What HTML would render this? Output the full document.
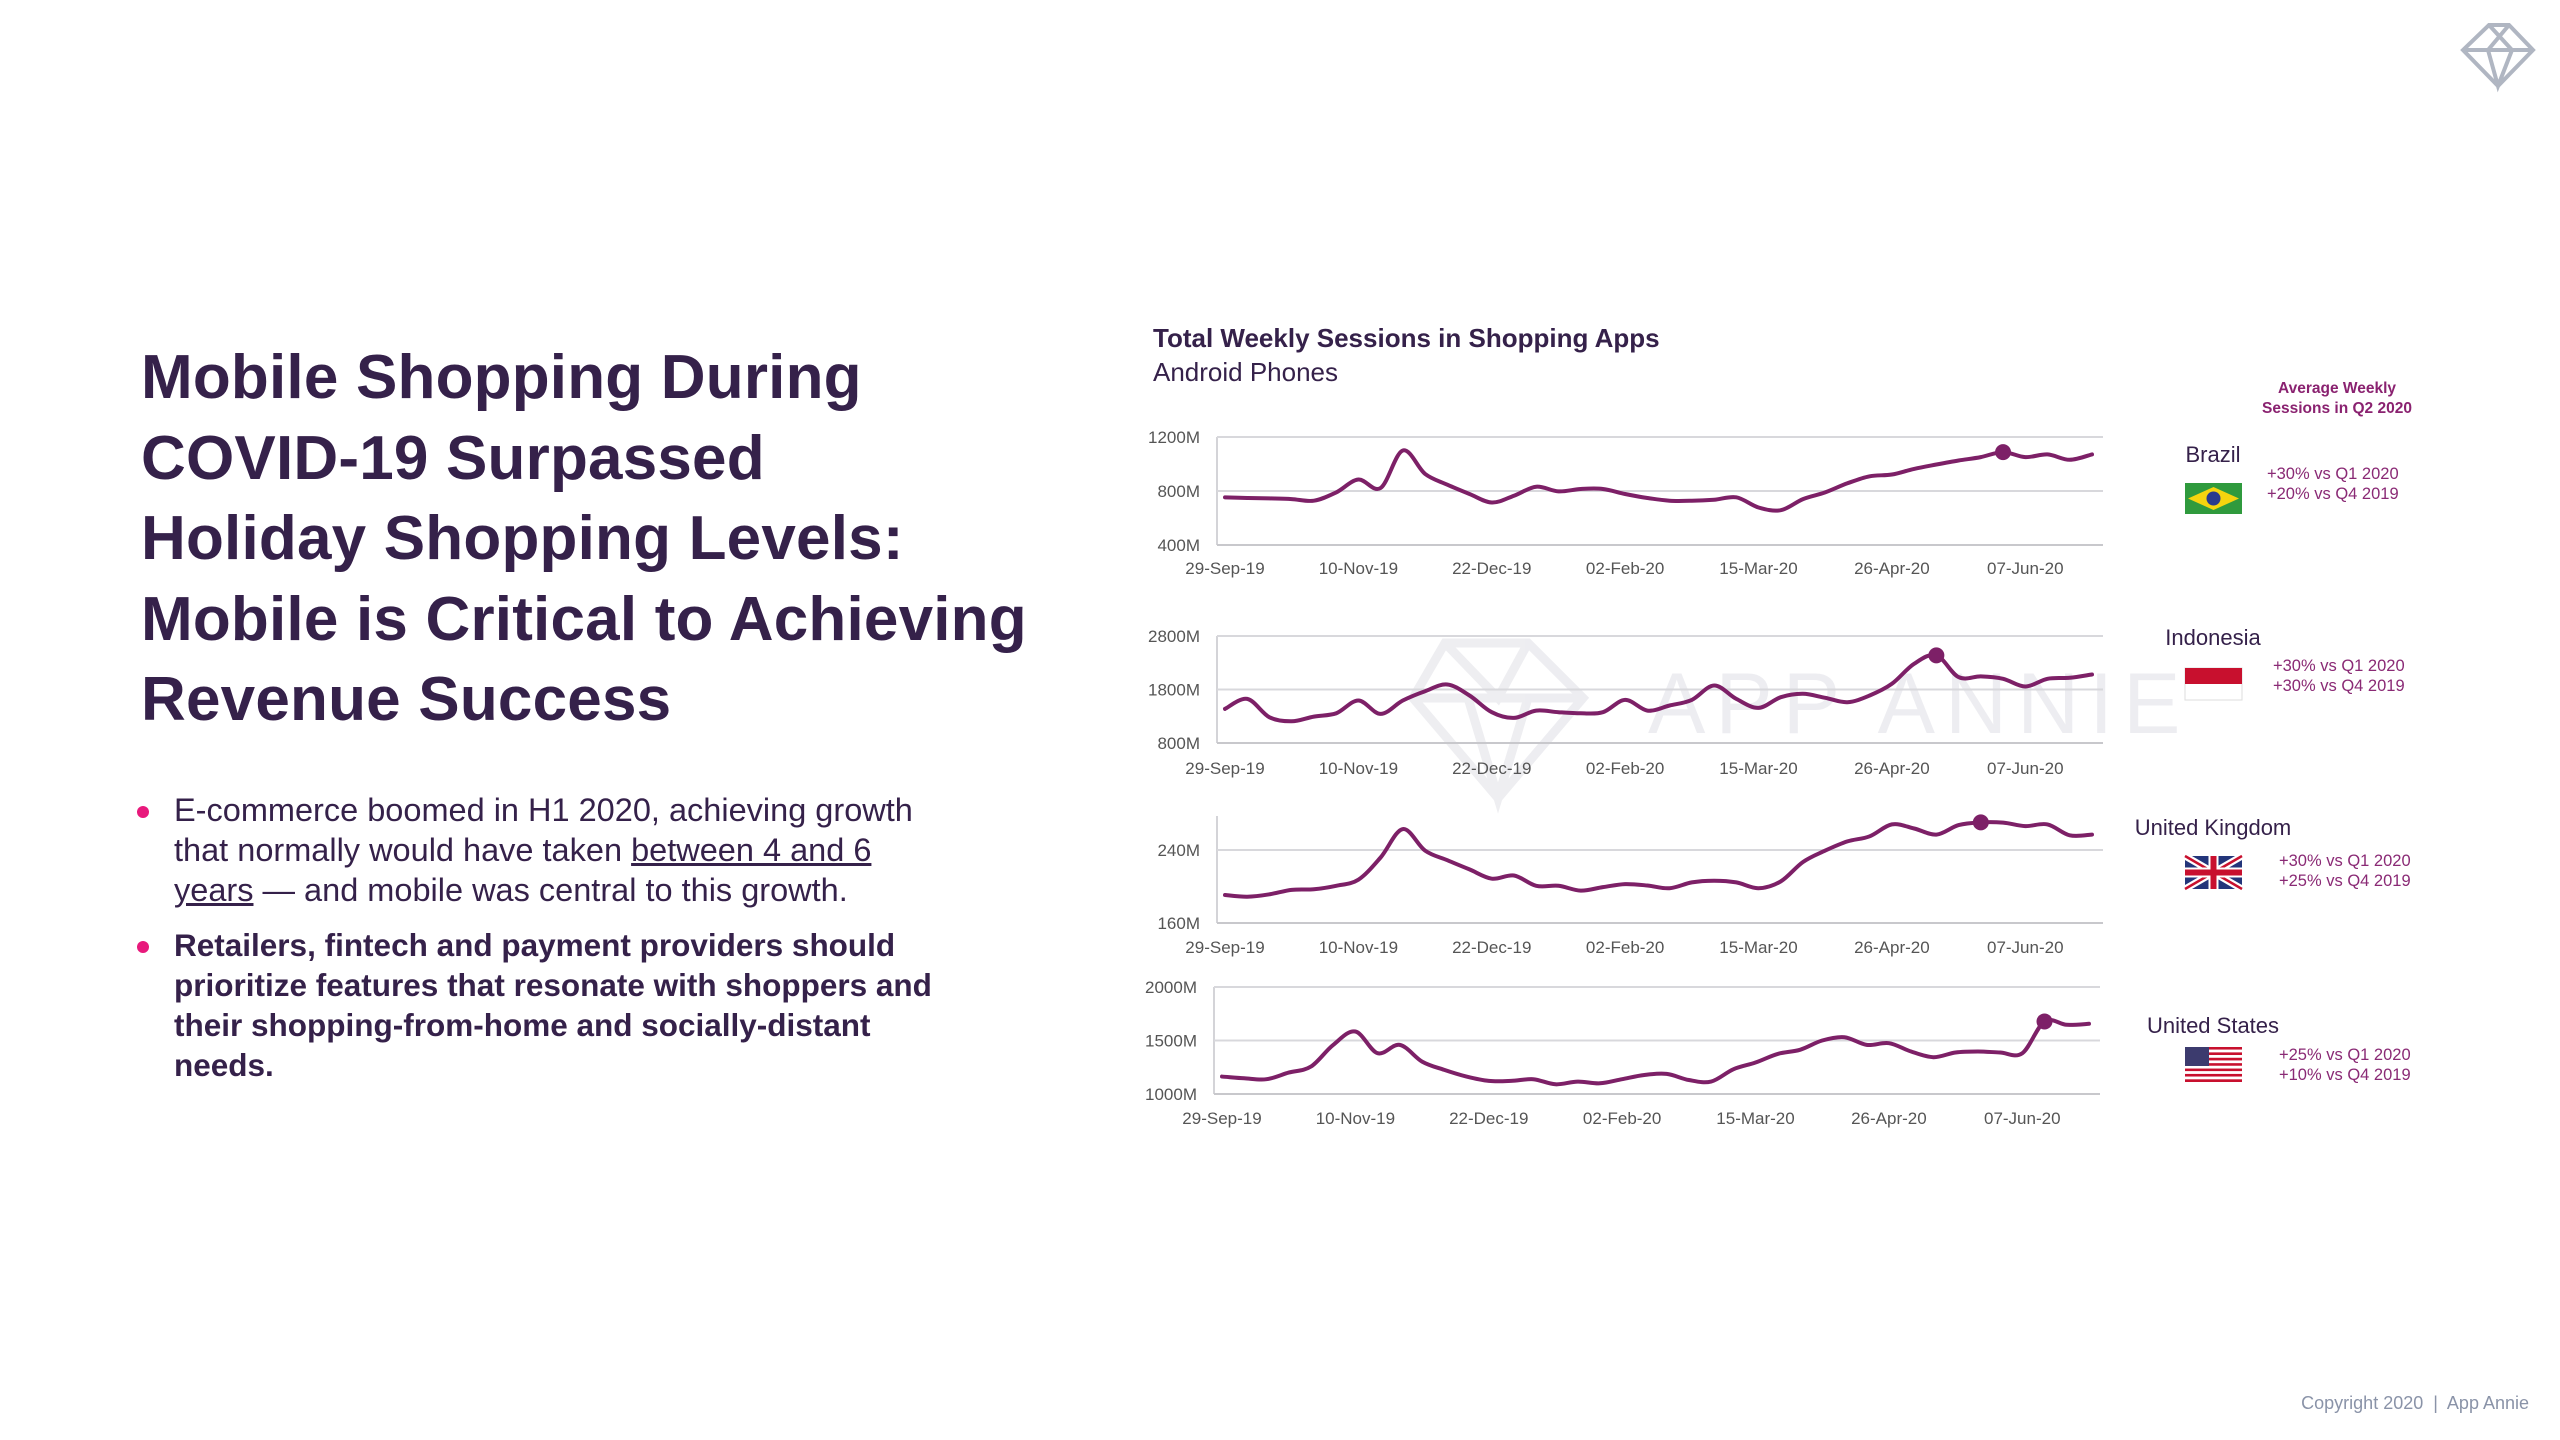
<!DOCTYPE html>
<html><head><meta charset="utf-8">
<style>
body{margin:0;width:2560px;height:1440px;background:#fff;position:relative;overflow:hidden;font-family:"Liberation Sans",sans-serif;color:#35214a}
.t{position:absolute;white-space:nowrap}
#title{left:141px;top:338px;font-size:62px;font-weight:bold;line-height:80.5px;color:#35214a;letter-spacing:0.2px}
.bul{position:absolute;left:174px;font-size:32.5px;line-height:40px;width:900px}
.dot{position:absolute;width:12px;height:12px;border-radius:50%;background:#e8197c}
.stat{position:absolute;font-size:16.5px;line-height:20px;color:#8a2a75}
.cn{position:absolute;font-size:22px;color:#35214a;text-align:center;width:260px}
</style></head><body>
<div id="title" class="t">Mobile Shopping During<br>COVID-19 Surpassed<br>Holiday Shopping Levels:<br>Mobile is Critical to Achieving<br>Revenue Success</div>

<div class="dot" style="left:137px;top:806px"></div>
<div class="bul" style="top:790px">E-commerce boomed in H1 2020, achieving growth<br>that normally would have taken <u>between 4 and 6<br>years</u> — and mobile was central to this growth.</div>
<div class="dot" style="left:137px;top:941px"></div>
<div class="bul" style="top:925px;font-weight:bold;font-size:31.5px">Retailers, fintech and payment providers should<br>prioritize features that resonate with shoppers and<br>their shopping-from-home and socially-distant<br>needs.</div>

<div class="t" style="left:1153px;top:323px;font-size:26px;font-weight:bold">Total Weekly Sessions in Shopping Apps</div>
<div class="t" style="left:1153px;top:357px;font-size:26px">Android Phones</div>

<div class="t" style="left:2197px;top:379px;width:280px;text-align:center;font-size:15.5px;font-weight:bold;line-height:20px;color:#8a2270">Average Weekly<br>Sessions in Q2 2020</div>

<div class="cn" style="left:2083px;top:442px">Brazil</div>
<div class="stat" style="left:2267px;top:464px">+30% vs Q1 2020<br>+20% vs Q4 2019</div>
<div class="cn" style="left:2083px;top:625px">Indonesia</div>
<div class="stat" style="left:2273px;top:656px">+30% vs Q1 2020<br>+30% vs Q4 2019</div>
<div class="cn" style="left:2083px;top:815px">United Kingdom</div>
<div class="stat" style="left:2279px;top:851px">+30% vs Q1 2020<br>+25% vs Q4 2019</div>
<div class="cn" style="left:2083px;top:1013px">United States</div>
<div class="stat" style="left:2279px;top:1045px">+25% vs Q1 2020<br>+10% vs Q4 2019</div>

<div class="t" style="right:31px;top:1393px;font-size:18px;color:#8a93a8">Copyright 2020 &nbsp;|&nbsp; App Annie</div>

<svg id="svg" width="2560" height="1440" style="position:absolute;left:0;top:0">
 <g opacity="0.9">
  <path d="M1445 643 L1528 643 L1583 698 L1498 798 L1413 698 Z M1413 698 L1583 698 M1445 643 L1498 698 L1528 643 M1468 698 L1498 798 L1528 698" fill="none" stroke="#ececf0" stroke-width="9"/>
  <text x="1648" y="733" font-size="86" fill="#ececf0" letter-spacing="10" font-family="Liberation Sans, sans-serif">APP ANNIE</text>
 </g>
 <g fill="none" stroke="#b0b6c2" stroke-width="4">
  <path d="M2489 25 L2509 25 L2533 50 L2498 86 L2463 50 Z M2463 50 L2533 50 M2489 25 L2512 50 M2509 25 L2488 50 M2488 50 L2498 86 L2512 50"/>
 </g>
 <g><rect x="2185" y="483" width="57" height="31" fill="#2f9a3d"/><path d="M2213.5 487 L2239 498.5 L2213.5 510 L2188 498.5Z" fill="#f5d40f"/><circle cx="2213.5" cy="498.5" r="7" fill="#283a8e"/></g>
 <g><rect x="2185" y="668" width="57" height="32" fill="#fff" stroke="#ddd"/><rect x="2185" y="668" width="57" height="16" fill="#c8102e"/></g>
 <g><rect x="2185" y="856" width="57" height="33" fill="#23357a"/><path d="M2185 856 L2242 889 M2242 856 L2185 889" stroke="#fff" stroke-width="7"/><path d="M2185 856 L2242 889 M2242 856 L2185 889" stroke="#c8102e" stroke-width="2.5"/><path d="M2213.5 856 V889 M2185 872.5 H2242" stroke="#fff" stroke-width="10"/><path d="M2213.5 856 V889 M2185 872.5 H2242" stroke="#c8102e" stroke-width="6"/></g>
 <g id="usflag"></g>
 <g id="charts"></g>
</svg>
<script>
const dates = ["29-Sep-19","10-Nov-19","22-Dec-19","02-Feb-20","15-Mar-20","26-Apr-20","07-Jun-20"];
const brazil = [753,748,745,740,728,790,885,822,1100,927,847,778,715,765,832,797,815,815,778,748,728,728,735,753,678,658,740,790,857,909,922,964,996,1026,1051,1088,1051,1071,1031,1071];
const indonesia = [1438,1625,1281,1206,1294,1356,1594,1344,1594,1769,1894,1688,1375,1269,1406,1375,1356,1375,1606,1406,1500,1606,1875,1625,1456,1656,1719,1644,1563,1688,1906,2281,2438,2031,2044,2000,1856,2000,2019,2081];
const uk = [190.7,188.8,191.4,196.3,197,200.8,207.5,231.8,262.9,239.3,228.8,218.7,208.6,212,200.8,200.8,195.5,199.3,202.6,201.1,198.1,204.5,206.4,204.5,198.1,205.6,226.9,239.3,249.4,255,268.1,263.6,256.9,267.3,270.3,270,266.2,268.1,256.1,256.9];
const us = [1163,1147,1138,1200,1256,1459,1584,1381,1459,1303,1225,1163,1122,1122,1138,1091,1116,1100,1138,1178,1188,1131,1116,1231,1294,1375,1413,1500,1531,1459,1475,1397,1344,1388,1397,1388,1381,1678,1647,1656];
const brazilTicks = [400,800,1200];
const indonesiaTicks = [800,1800,2800];
const ukTicks = [160,240];
const usTicks = [1000,1500,2000];
const highlightIdx = [35,32,34,37];

const NS="http://www.w3.org/2000/svg";
const svg=document.getElementById('charts');
function mk(tag,attrs,parent){const e=document.createElementNS(NS,tag);for(const k in attrs)e.setAttribute(k,attrs[k]);(parent||svg).appendChild(e);return e;}
const charts=[
 {name:'brazil',data:brazil,ticks:brazilTicks,lo:400,hi:1200,y0:545,y1:437,top:437,lab:568,dx:0,hl:highlightIdx[0]},
 {name:'indonesia',data:indonesia,ticks:indonesiaTicks,lo:800,hi:2800,y0:743,y1:636,top:636,lab:768,dx:0,hl:highlightIdx[1]},
 {name:'uk',data:uk,ticks:ukTicks,lo:160,hi:240,y0:923,y1:850,top:816,lab:947,dx:0,hl:highlightIdx[2]},
 {name:'us',data:us,ticks:usTicks,lo:1000,hi:2000,y0:1094,y1:987,top:987,lab:1118,dx:-3,hl:highlightIdx[3]}
];
function smooth(pts){let d='M'+pts[0][0]+' '+pts[0][1];for(let i=0;i<pts.length-1;i++){const p0=pts[i-1]||pts[i],p1=pts[i],p2=pts[i+1],p3=pts[i+2]||p2;const c1x=p1[0]+(p2[0]-p0[0])/6,c1y=p1[1]+(p2[1]-p0[1])/6,c2x=p2[0]-(p3[0]-p1[0])/6,c2y=p2[1]-(p3[1]-p1[1])/6;d+=' C'+c1x.toFixed(1)+' '+c1y.toFixed(1)+' '+c2x.toFixed(1)+' '+c2y.toFixed(1)+' '+p2[0].toFixed(1)+' '+p2[1].toFixed(1);}return d;}
charts.forEach(c=>{
 const L=1217+c.dx,R=2103+c.dx;
 const xS=i=>1225+c.dx+i*22.23;
 const yS=v=>c.y0+(v-c.lo)*(c.y1-c.y0)/(c.hi-c.lo);
 const g=mk('g',{});
 
 
 const ax=mk('line',{x1:L,x2:L,y1:c.top,y2:c.y0,stroke:'#d4d4d8','stroke-width':2},g);
 
 
 c.ticks.forEach(t=>{
  const y=yS(t);
  const gl=mk('line',{x1:L,x2:R,y1:y,y2:y,stroke:t===c.lo?'#c8c8cc':'#d8d8dc','stroke-width':2},g);
  
  
  const tx=mk('text',{x:1200+c.dx,y:y+6,'text-anchor':'end','font-size':17,fill:'#555','font-family':'Liberation Sans, sans-serif'},g);
  tx.textContent=t+'M';
  
  
 });
 dates.forEach((d,k)=>{
  const tx=mk('text',{x:xS(k*6),y:c.lab+6,'text-anchor':'middle','font-size':17,fill:'#555','font-family':'Liberation Sans, sans-serif'},g);
  tx.textContent=d;
  
  
 });
 const pts=c.data.map((v,i)=>[xS(i),yS(v)]);
 const p=mk('path',{d:smooth(pts),fill:'none',stroke:'#7d2067','stroke-width':4,'stroke-linejoin':'round','stroke-linecap':'round'},g);
 
 
 const dt=mk('circle',{cx:xS(c.hl),cy:yS(c.data[c.hl]),r:8,fill:'#7d2067'},g);
 
 
});
const uf=document.getElementById('usflag');
for(let i=0;i<13;i++){mk('rect',{x:2185,y:1047+i*35/13,width:57,height:35/13,fill:i%2?'#fff':'#c8102e'},uf);}
mk('rect',{x:2185,y:1047,width:24,height:19,fill:'#3c3b6e'},uf);
</script>
</body></html>
